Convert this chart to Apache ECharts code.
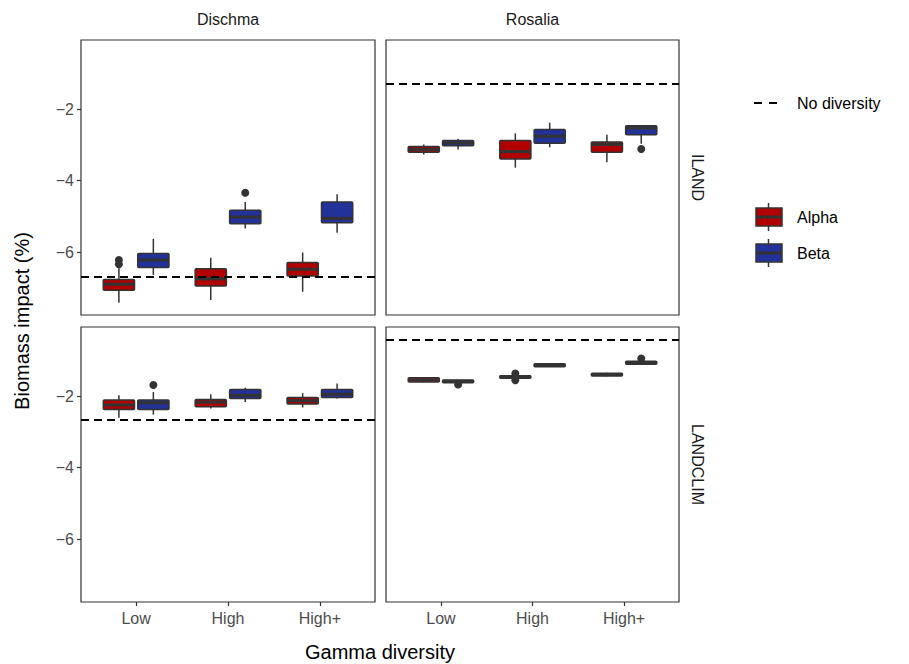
<!DOCTYPE html>
<html>
<head>
<meta charset="utf-8">
<script src="https://cdn.jsdelivr.net/npm/echarts@6/dist/echarts.min.js"></script>
<style>
  html, body { margin: 0; padding: 0; background: #fff; }
  #chart { width: 909px; height: 664px; }
</style>
</head>
<body>
<div id="chart"></div>
<script>
// gamma levels on the x axis, facets
const categories = ['Low', 'High', 'High+']
const sites = ['Dischma', 'Rosalia']
const models = ['ILAND', 'LANDCLIM']
const yTicks = [-6, -4, -2]

// boxes per gamma level: [lower whisker, q1, median, q3, upper whisker]
const dischmaIlandAlpha = [[-7.42, -7.07, -6.90, -6.77, -6.45], [-7.34, -6.95, -6.75, -6.47, -6.16], [-7.11, -6.67, -6.48, -6.29, -6.01]]
const dischmaIlandBeta = [[-6.64, -6.43, -6.22, -6.04, -5.63], [-5.34, -5.21, -5.02, -4.83, -4.60], [-5.46, -5.18, -5.06, -4.60, -4.38]]
const rosaliaIlandAlpha = [[-3.27, -3.21, -3.13, -3.05, -2.99], [-3.64, -3.40, -3.19, -2.88, -2.68], [-3.49, -3.21, -2.99, -2.92, -2.72]]
const rosaliaIlandBeta = [[-3.13, -3.03, -2.95, -2.88, -2.83], [-3.07, -2.96, -2.76, -2.57, -2.38], [-2.97, -2.72, -2.53, -2.47, -2.45]]
const dischmaLandclimAlpha = [[-2.61, -2.38, -2.25, -2.11, -1.98], [-2.35, -2.30, -2.17, -2.10, -1.95], [-2.32, -2.22, -2.13, -2.04, -1.92]]
const dischmaLandclimBeta = [[-2.52, -2.38, -2.19, -2.11, -1.89], [-2.17, -2.07, -1.98, -1.82, -1.77], [-2.07, -2.04, -1.95, -1.82, -1.65]]
const rosaliaLandclimAlpha = [[-1.62, -1.61, -1.55, -1.49, -1.48], [-1.51, -1.50, -1.46, -1.43, -1.42], [-1.45, -1.44, -1.40, -1.36, -1.35]]
const rosaliaLandclimBeta = [[-1.64, -1.63, -1.59, -1.55, -1.54], [-1.19, -1.18, -1.14, -1.10, -1.09], [-1.12, -1.11, -1.07, -1.03, -1.02]]

// outliers: [gamma level index, value]
const dischmaIlandAlphaOut = [[0, -6.22], [0, -6.34]]
const dischmaIlandBetaOut = [[1, -4.34]]
const rosaliaIlandAlphaOut = []
const rosaliaIlandBetaOut = [[2, -3.12]]
const dischmaLandclimAlphaOut = []
const dischmaLandclimBetaOut = [[0, -1.69]]
const rosaliaLandclimAlphaOut = [[1, -1.37], [1, -1.56]]
const rosaliaLandclimBetaOut = [[0, -1.68], [2, -0.95]]

// no-diversity reference per panel (Dischma ILAND, Rosalia ILAND, Dischma LANDCLIM, Rosalia LANDCLIM)
const noDiversity = [-6.69, -1.28, -2.65, -0.42]

const FONT = 'Liberation Sans, Arial, sans-serif'
const alphaColor = '#B20000'
const betaColor = '#23329A'
const edge = '#333333'
const SHIFT = 0.1875 // dodge offset
const BOX_W = 0.34

const panels = [
  {alpha: dischmaIlandAlpha, beta: dischmaIlandBeta, aOut: dischmaIlandAlphaOut, bOut: dischmaIlandBetaOut},
  {alpha: rosaliaIlandAlpha, beta: rosaliaIlandBeta, aOut: rosaliaIlandAlphaOut, bOut: rosaliaIlandBetaOut},
  {alpha: dischmaLandclimAlpha, beta: dischmaLandclimBeta, aOut: dischmaLandclimAlphaOut, bOut: dischmaLandclimBetaOut},
  {alpha: rosaliaLandclimAlpha, beta: rosaliaLandclimBeta, aOut: rosaliaLandclimAlphaOut, bOut: rosaliaLandclimBetaOut},
]

const gridPos = [
  {left: 81, top: 40, width: 294, height: 275},
  {left: 386, top: 40, width: 293, height: 275},
  {left: 81, top: 327, width: 294, height: 275},
  {left: 386, top: 327, width: 293, height: 275},
]

const boxRender = (shift, color) => (params, api) => {
  const cat = api.value(0)
  const lo = api.coord([cat + shift, api.value(1)])
  const q1 = api.coord([cat + shift, api.value(2)])
  const md = api.coord([cat + shift, api.value(3)])
  const q3 = api.coord([cat + shift, api.value(4)])
  const hi = api.coord([cat + shift, api.value(5)])
  const half = api.size([BOX_W, 0])[0] / 2
  const x = lo[0]
  return {
    type: 'group',
    children: [
      {type: 'line', shape: {x1: x, y1: hi[1], x2: x, y2: lo[1]}, style: {stroke: edge, lineWidth: 1.5}},
      {type: 'rect', shape: {x: x - half, y: q3[1], width: half * 2, height: q1[1] - q3[1], r: 1},
        style: {fill: color, stroke: edge, lineWidth: 1.5}},
      {type: 'line', shape: {x1: x - half, y1: md[1], x2: x + half, y2: md[1]}, style: {stroke: edge, lineWidth: 3}},
    ]
  }
}

const grids = []
const xAxes = []
const yAxes = []
const series = []
gridPos.forEach((g, i) => {
  const isBottom = i >= 2
  const isLeft = i % 2 === 0
  grids.push({...g, show: true, borderColor: edge, borderWidth: 1.2, backgroundColor: '#fff', containLabel: false})
  xAxes.push({
    gridIndex: i, type: 'value', min: 0.4, max: 3.6,
    splitLine: {show: false},
    axisLine: {show: false},
    axisTick: {show: isBottom, length: 4, lineStyle: {color: edge, width: 1.2}, customValues: [1, 2, 3]},
    axisLabel: {
      show: isBottom, customValues: [1, 2, 3], margin: 8,
      formatter: (v) => categories[Math.round(v) - 1] || '',
      color: '#4D4D4D', fontSize: 16, fontFamily: FONT
    }
  })
  yAxes.push({
    gridIndex: i, type: 'value', min: -7.76, max: -0.07,
    splitLine: {show: false},
    axisLine: {show: false},
    axisTick: {show: isLeft, length: 4, lineStyle: {color: edge, width: 1.2}, customValues: yTicks},
    axisLabel: {
      show: isLeft, customValues: yTicks, margin: 7,
      formatter: (v) => String(v).replace('-', '\u2212'),
      color: '#4D4D4D', fontSize: 16, fontFamily: FONT
    }
  })
  const p = panels[i]
  series.push({
    type: 'custom', name: 'Alpha', xAxisIndex: i, yAxisIndex: i,
    renderItem: boxRender(-SHIFT, alphaColor),
    encode: {x: 0, y: [1, 2, 3, 4, 5]},
    data: p.alpha.map((b, k) => [k + 1, ...b]),
    z: 3
  })
  series.push({
    type: 'custom', name: 'Beta', xAxisIndex: i, yAxisIndex: i,
    renderItem: boxRender(SHIFT, betaColor),
    encode: {x: 0, y: [1, 2, 3, 4, 5]},
    data: p.beta.map((b, k) => [k + 1, ...b]),
    z: 3
  })
  series.push({
    type: 'scatter', name: 'outliers', xAxisIndex: i, yAxisIndex: i,
    symbolSize: 8,
    itemStyle: {color: edge, opacity: 1},
    data: [
      ...p.aOut.map(o => [o[0] + 1 - SHIFT, o[1]]),
      ...p.bOut.map(o => [o[0] + 1 + SHIFT, o[1]]),
    ],
    z: 4,
    markLine: {
      silent: true,
      symbol: ['none', 'none'],
      label: {show: false},
      lineStyle: {type: [8, 5], color: '#000', width: 1.8, opacity: 1},
      data: [{yAxis: noDiversity[i]}],
      z: 5
    }
  })
})

const stripText = {fontSize: 16, fontFamily: FONT, fill: '#1A1A1A'}
const legendText = {fontSize: 16, fontFamily: FONT, fill: '#000', verticalAlign: 'middle'}

const legendKey = (cy, color) => ({
  type: 'group',
  children: [
    {type: 'line', shape: {x1: 768.5, y1: cy - 14, x2: 768.5, y2: cy + 14}, style: {stroke: edge, lineWidth: 1.5}},
    {type: 'rect', shape: {x: 756, y: cy - 9, width: 26, height: 18}, style: {fill: color, stroke: edge, lineWidth: 1.5}},
    {type: 'line', shape: {x1: 756, y1: cy, x2: 782, y2: cy}, style: {stroke: edge, lineWidth: 3}},
  ]
})

const option = {
  animation: false,
  backgroundColor: '#fff',
  grid: grids,
  xAxis: xAxes,
  yAxis: yAxes,
  series,
  graphic: [
    {type: 'text', x: 228, y: 19, style: {...stripText, text: sites[0], align: 'center', verticalAlign: 'middle'}},
    {type: 'text', x: 532.5, y: 19, style: {...stripText, text: sites[1], align: 'center', verticalAlign: 'middle'}},
    {type: 'text', x: 697, y: 177.5, rotation: -Math.PI / 2, style: {...stripText, text: models[0], align: 'center', verticalAlign: 'middle'}},
    {type: 'text', x: 697, y: 464.5, rotation: -Math.PI / 2, style: {...stripText, text: models[1], align: 'center', verticalAlign: 'middle'}},
    {type: 'text', x: 22, y: 321, rotation: Math.PI / 2,
      style: {text: 'Biomass impact (%)', fontSize: 20, fontFamily: FONT, fill: '#000', align: 'center', verticalAlign: 'middle'}},
    {type: 'text', x: 380, y: 652,
      style: {text: 'Gamma diversity', fontSize: 20, fontFamily: FONT, fill: '#000', align: 'center', verticalAlign: 'middle'}},
    {type: 'line', shape: {x1: 754, y1: 103, x2: 777, y2: 103}, style: {stroke: '#000', lineWidth: 1.8, lineDash: [8, 7]}},
    {type: 'text', x: 797, y: 103, style: {...legendText, text: 'No diversity'}},
    legendKey(217, alphaColor),
    {type: 'text', x: 797, y: 217, style: {...legendText, text: 'Alpha'}},
    legendKey(253, betaColor),
    {type: 'text', x: 797, y: 253, style: {...legendText, text: 'Beta'}},
  ]
}

const chart = echarts.init(document.getElementById('chart'), null, {renderer: 'svg'})
chart.setOption(option)
</script>
</body>
</html>
